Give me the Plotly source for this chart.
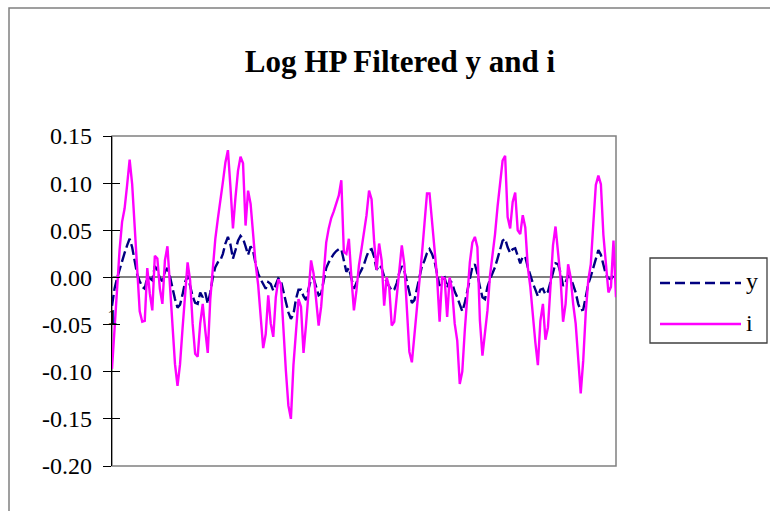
import plotly.graph_objects as go

# ---- data ----
period = list(range(1, 202))

y_vals = [
    -0.030, -0.012, -0.001, 0.009, 0.019, 0.026, 0.034, 0.041, 0.032, 0.018,
    0.003, -0.004, -0.010, -0.012, 0.001, -0.001, -0.003, 0.012, 0.008, -0.001,
    -0.004, 0.006, 0.010, 0.001, -0.012, -0.023, -0.032, -0.029, -0.018, -0.005,
    0.002, -0.009, -0.020, -0.027, -0.028, -0.016, -0.021, -0.016, -0.028, -0.016,
    0.000, 0.011, 0.016, 0.018, 0.025, 0.036, 0.043, 0.035, 0.020, 0.029,
    0.039, 0.044, 0.041, 0.033, 0.024, 0.033, 0.028, 0.014, 0.004, -0.002,
    -0.007, -0.012, -0.005, -0.007, -0.014, -0.007, -0.001, -0.003, -0.016, -0.026,
    -0.037, -0.044, -0.039, -0.023, -0.013, -0.013, -0.020, -0.024, -0.012, -0.002,
    -0.001, -0.010, -0.019, -0.017, -0.003, 0.010, 0.016, 0.021, 0.025, 0.028,
    0.030, 0.030, 0.018, 0.006, 0.010, 0.000, -0.012, -0.006, 0.003, 0.008,
    0.014, 0.022, 0.029, 0.030, 0.022, 0.008, 0.013, 0.010, 0.001, -0.005,
    -0.009, -0.014, -0.013, -0.006, 0.005, 0.012, 0.007, -0.005, -0.018, -0.027,
    -0.024, -0.011, 0.000, 0.012, 0.018, 0.026, 0.030, 0.025, 0.017, 0.005,
    -0.009, -0.002, 0.000, -0.011, -0.003, -0.006, -0.015, -0.021, -0.028, -0.036,
    -0.027, -0.013, 0.000, 0.011, 0.014, 0.004, -0.010, -0.021, -0.023, -0.010,
    -0.002, 0.004, 0.011, 0.020, 0.030, 0.039, 0.041, 0.032, 0.026, 0.030,
    0.031, 0.023, 0.015, 0.022, 0.022, 0.011, 0.001, -0.006, -0.013, -0.020,
    -0.013, -0.012, -0.018, -0.015, -0.005, 0.006, 0.015, 0.014, 0.005, -0.009,
    -0.005, 0.002, 0.000, -0.008, -0.016, -0.028, -0.035, -0.034, -0.019, -0.007,
    0.001, 0.011, 0.021, 0.029, 0.024, 0.012, 0.003, -0.001, -0.002, 0.002,
    0.000,
]

i_vals = [
    -0.097, -0.051, -0.008, 0.029, 0.059, 0.073, 0.098, 0.125, 0.099, 0.057,
    0.007, -0.036, -0.047, -0.046, 0.010, -0.017, -0.035, 0.023, 0.020, -0.012,
    -0.028, 0.018, 0.033, -0.012, -0.049, -0.092, -0.115, -0.092, -0.054, -0.017,
    0.016, -0.003, -0.049, -0.081, -0.084, -0.049, -0.028, -0.056, -0.080, -0.023,
    0.007, 0.041, 0.062, 0.080, 0.101, 0.122, 0.135, 0.096, 0.052, 0.085,
    0.113, 0.128, 0.121, 0.055, 0.092, 0.078, 0.043, 0.014, -0.008, -0.040,
    -0.075, -0.060, -0.019, -0.049, -0.063, -0.021, -0.002, -0.007, -0.056, -0.099,
    -0.136, -0.150, -0.093, -0.060, -0.023, -0.031, -0.080, -0.050, -0.012, 0.018,
    0.004, -0.028, -0.051, -0.031, 0.007, 0.037, 0.052, 0.063, 0.070, 0.078,
    0.087, 0.103, 0.027, 0.025, 0.041, 0.000, -0.035, -0.014, 0.013, 0.030,
    0.048, 0.066, 0.092, 0.083, 0.039, 0.008, 0.036, 0.018, -0.030, 0.000,
    -0.010, -0.051, -0.047, -0.019, 0.007, 0.034, 0.014, -0.040, -0.079, -0.090,
    -0.063, -0.037, -0.005, 0.025, 0.057, 0.089, 0.089, 0.060, 0.032, 0.000,
    -0.047, 0.000, -0.001, -0.042, 0.000, -0.014, -0.049, -0.067, -0.113, -0.100,
    -0.056, -0.016, 0.016, 0.037, 0.043, 0.032, -0.046, -0.083, -0.062, -0.035,
    0.002, 0.022, 0.046, 0.075, 0.099, 0.124, 0.129, 0.064, 0.052, 0.080,
    0.090, 0.050, 0.046, 0.066, 0.053, 0.011, -0.010, -0.042, -0.069, -0.093,
    -0.046, -0.028, -0.066, -0.053, -0.007, 0.034, 0.054, 0.029, -0.001, -0.047,
    -0.028, 0.014, 0.000, -0.028, -0.049, -0.086, -0.123, -0.088, -0.037, -0.003,
    0.014, 0.057, 0.098, 0.108, 0.099, 0.045, 0.012, -0.016, -0.010, 0.039,
    -0.021,
]

y_ticks = [0.15, 0.10, 0.05, 0.00, -0.05, -0.10, -0.15, -0.20]
y_tick_labels = ["0.15", "0.10", "0.05", "0.00", "-0.05", "-0.10", "-0.15", "-0.20"]
series_names = ["y", "i"]
title_text = "Log HP Filtered y and i"
first_category_label = "1"

# ---- styling ----
FONT = "Liberation Serif, Times New Roman, serif"
NAVY = "#000080"
MAGENTA = "#FF00FF"
GRAY = "#808080"

W, H = 770, 511
PL, PR, PT, PB = 112, 616, 136, 466  # plot area in pixels
pw, ph = PR - PL, PB - PT


def px(xp):
    return (xp - PL) / pw


def py(yp):
    return (PB - yp) / ph


fig = go.Figure()
fig.add_trace(go.Scatter(x=period, y=y_vals, mode="lines", name=series_names[0],
                         line=dict(color=NAVY, width=2.4, dash="11px,4px")))
fig.add_trace(go.Scatter(x=period, y=i_vals, mode="lines", name=series_names[1],
                         line=dict(color=MAGENTA, width=2.4)))

shapes = [
    # outer chart border
    dict(type="rect", xref="paper", yref="paper", x0=px(9), x1=px(800), y0=py(540), y1=py(8),
         line=dict(color=GRAY, width=1.5), fillcolor="rgba(0,0,0,0)", layer="below"),
    # plot area border
    dict(type="rect", xref="paper", yref="paper", x0=0, x1=1, y0=0, y1=1,
         line=dict(color=GRAY, width=1.5), fillcolor="rgba(0,0,0,0)", layer="below"),
    # legend box
    dict(type="rect", xref="paper", yref="paper", x0=px(650), x1=px(767), y0=py(343), y1=py(258),
         line=dict(color="#404040", width=1.3), fillcolor="white", layer="above"),
    dict(type="line", xref="paper", yref="paper", x0=px(660), x1=px(741), y0=py(283), y1=py(283),
         line=dict(color=NAVY, width=2.4, dash="10px,5px")),
    dict(type="line", xref="paper", yref="paper", x0=px(660), x1=px(741), y0=py(324), y1=py(324),
         line=dict(color=MAGENTA, width=2.4)),
]

annotations = [
    dict(text=series_names[0], xref="paper", yref="paper", x=px(744), y=py(281),
         xanchor="left", yanchor="middle", showarrow=False,
         font=dict(family=FONT, size=24, color="black")),
    dict(text=series_names[1], xref="paper", yref="paper", x=px(744), y=py(323),
         xanchor="left", yanchor="middle", showarrow=False,
         font=dict(family=FONT, size=24, color="black")),
    dict(text=first_category_label, xref="x", yref="y", x=period[0], y=0,
         xanchor="center", yanchor="middle", yshift=-39, showarrow=False,
         font=dict(family=FONT, size=22, color="black")),
]

fig.update_layout(
    width=W, height=H,
    margin=dict(l=PL, r=W - PR, t=PT, b=H - PB, pad=0),
    paper_bgcolor="white", plot_bgcolor="white",
    font=dict(family=FONT, color="black"),
    showlegend=False,
    title=dict(text=title_text, x=400 / W, xref="container", xanchor="center",
               y=1 - 61 / H, yref="container", yanchor="middle",
               font=dict(family=FONT, size=31, color="black", weight="bold")),
    xaxis=dict(range=[period[0], period[-1]], showgrid=False, zeroline=False,
               showline=False, ticks="", showticklabels=False),
    yaxis=dict(range=[-0.20, 0.15], tickvals=y_ticks, ticktext=y_tick_labels,
               showgrid=False, zeroline=True, zerolinecolor=GRAY, zerolinewidth=1.5,
               showline=True, linecolor="black", linewidth=1.3,
               ticks="outside", ticklen=8, tickwidth=1.3, tickcolor="black",
               ticklabelstandoff=6,
               tickfont=dict(family=FONT, size=24, color="black")),
    yaxis2=dict(range=[-0.20, 0.15], tickvals=y_ticks, overlaying="y", side="left",
                showgrid=False, zeroline=False, showline=False,
                ticks="inside", ticklen=8, tickwidth=1.3, tickcolor="black",
                showticklabels=False),
    shapes=shapes,
    annotations=annotations,
)

# invisible trace on yaxis2 so its ticks render
fig.add_trace(go.Scatter(x=[period[0]], y=[0], yaxis="y2", mode="markers",
                         marker=dict(opacity=0), hoverinfo="skip", showlegend=False))

fig.write_html("out.html", config={"displayModeBar": False},
               post_script="document.body.style.margin='0';document.body.style.overflow='hidden';")
